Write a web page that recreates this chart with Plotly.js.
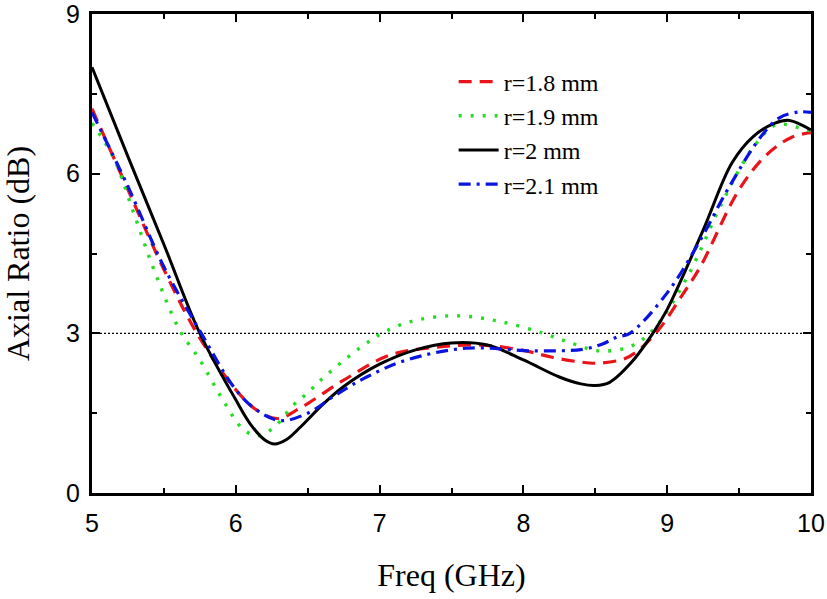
<!DOCTYPE html>
<html>
<head>
<meta charset="utf-8">
<script src="https://cdn.plot.ly/plotly-3.0.1.min.js"></script>
<style>html,body{margin:0;padding:0;background:#fff;}#chart{width:827px;height:599px;}</style>
</head>
<body>
<div id="chart"></div>
<script>
// r = 1.8 mm
const freq18 = [5, 5.25, 5.5, 5.73, 6.0, 6.15, 6.29, 6.45, 6.75, 7.07, 7.4, 7.7, 8.0, 8.2, 8.4, 8.53, 8.7, 8.8, 8.95, 9.1, 9.23, 9.5, 9.69, 9.87, 10];
const ar18 =   [7.22, 5.7, 4.2, 3.0, 1.94, 1.55, 1.4, 1.6, 2.12, 2.59, 2.74, 2.78, 2.68, 2.55, 2.46, 2.44, 2.52, 2.68, 3.1, 3.7, 4.25, 5.7, 6.35, 6.69, 6.77];
// r = 1.9 mm
const freq19 = [5, 5.15, 5.29, 5.45, 5.61, 5.75, 5.91, 6.05, 6.15, 6.26, 6.4, 6.5, 6.59, 6.86, 7.05, 7.26, 7.54, 7.84, 8.14, 8.35, 8.53, 8.74, 8.9, 9.14, 9.39, 9.6, 9.76, 9.92, 10];
const ar19 =   [6.95, 6.3, 5.26, 4.06, 3.06, 2.5, 1.75, 1.2, 1.08, 1.22, 1.65, 1.88, 2.12, 2.72, 3.05, 3.25, 3.33, 3.22, 3.0, 2.8, 2.67, 2.75, 3.06, 4.06, 5.5, 6.5, 6.92, 6.86, 6.8];
// r = 2 mm
const freq20 = [5, 5.25, 5.5, 5.75, 6.0, 6.1, 6.2, 6.27, 6.35, 6.45, 6.6, 6.75, 7.0, 7.25, 7.5, 7.75, 8.0, 8.25, 8.4, 8.5, 8.6, 8.75, 8.9, 9.0, 9.25, 9.45, 9.6, 9.75, 9.85, 10];
const ar20 =   [8.0, 6.32, 4.67, 3.0, 1.75, 1.3, 1.0, 0.92, 1.0, 1.24, 1.65, 2.0, 2.42, 2.69, 2.82, 2.78, 2.5, 2.18, 2.05, 2.02, 2.08, 2.45, 3.0, 3.45, 4.94, 6.2, 6.7, 6.95, 7.0, 6.82];
// r = 2.1 mm
const freq21 = [5, 5.25, 5.5, 5.76, 6.0, 6.15, 6.31, 6.5, 6.7, 6.91, 7.19, 7.6, 8.07, 8.41, 8.55, 8.65, 8.74, 9.0, 9.23, 9.42, 9.65, 9.78, 9.92, 10];
const ar21 =   [7.15, 5.76, 4.25, 3.0, 1.94, 1.55, 1.36, 1.5, 1.85, 2.18, 2.5, 2.72, 2.67, 2.7, 2.8, 2.93, 3.0, 3.76, 4.75, 5.7, 6.69, 7.05, 7.16, 7.15];
// 3 dB reference
const refFreq = [5, 10];
const refAR = [3, 3];
const names = ['r=1.8 mm', 'r=1.9 mm', 'r=2 mm', 'r=2.1 mm'];
const xTicks = [5, 6, 7, 8, 9, 10];
const yTicks = [0, 3, 6, 9];

const traces = [
  {x: refFreq, y: refAR, mode: 'lines', showlegend: false, hoverinfo: 'skip',
   line: {color: '#000', width: 1.2, dash: '2px,2px'}},
  {x: freq18, y: ar18, name: names[0], mode: 'lines',
   line: {color: '#e8141a', width: 3.2, dash: '13px,8px', shape: 'spline', smoothing: 1}},
  {x: freq19, y: ar19, name: names[1], mode: 'lines',
   line: {color: '#22dd22', width: 3.4, dash: '3px,9px', shape: 'spline', smoothing: 1}},
  {x: freq20, y: ar20, name: names[2], mode: 'lines',
   line: {color: '#000', width: 3, shape: 'spline', smoothing: 1}},
  {x: freq21, y: ar21, name: names[3], mode: 'lines',
   line: {color: '#0a14e0', width: 3.2, dash: '12px,6px,3px,6px', shape: 'spline', smoothing: 1}}
];

const axisCommon = {
  showgrid: false, zeroline: false, showline: true, linecolor: '#000', linewidth: 3,
  mirror: 'ticks', ticks: 'inside', ticklen: 8, tickwidth: 2, tickcolor: '#000',
  ticklabeloverflow: 'allow',
  tickfont: {family: 'Liberation Sans, Arial, sans-serif', size: 25, color: '#000'}
};

const layout = {
  width: 827, height: 599,
  margin: {l: 92, r: 16, t: 14, b: 106},
  paper_bgcolor: '#fff', plot_bgcolor: '#fff',
  showlegend: true,
  legend: {x: 0.503, y: 0.905, xanchor: 'left', yanchor: 'top', bgcolor: 'rgba(0,0,0,0)',
    font: {family: 'Liberation Serif, Times New Roman, serif', size: 24, color: '#000'},
    tracegroupgap: 0, itemwidth: 40},
  xaxis: Object.assign({}, axisCommon, {
    range: [5, 10], tickvals: xTicks, ticktext: xTicks.map(String), ticklabelstandoff: 6,
    minor: {dtick: 0.5, ticks: 'inside', ticklen: 5, tickwidth: 2, tickcolor: '#000'},
    title: {text: 'Freq (GHz)', standoff: 28,
      font: {family: 'Liberation Serif, Times New Roman, serif', size: 32, color: '#000'}}
  }),
  yaxis: Object.assign({}, axisCommon, {
    range: [0, 9.0001], tickvals: yTicks, ticktext: yTicks.map(String), ticklabelstandoff: 4,
    minor: {dtick: 1.5, ticks: 'inside', ticklen: 5, tickwidth: 2, tickcolor: '#000'},
    title: {text: 'Axial Ratio (dB)', standoff: 30,
      font: {family: 'Liberation Serif, Times New Roman, serif', size: 32, color: '#000'}}
  })
};

Plotly.newPlot('chart', traces, layout, {displayModeBar: false, staticPlot: true});
</script>
</body>
</html>
